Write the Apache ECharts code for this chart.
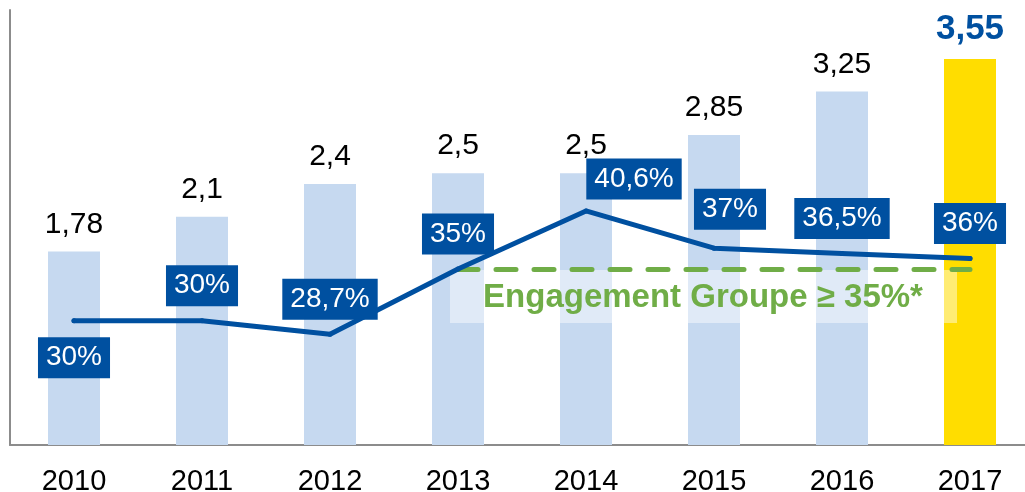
<!DOCTYPE html>
<html>
<head>
<meta charset="utf-8">
<script src="https://cdn.jsdelivr.net/npm/echarts@6/dist/echarts.min.js"></script>
<style>
  html, body { margin: 0; padding: 0; background: #fff; }
  #ech { width: 1025px; height: 492px; }
</style>
</head>
<body>
<div id="ech"></div>
<script>
// années
var years = ['2010', '2011', '2012', '2013', '2014', '2015', '2016', '2017'];
// dividende par action (€)
var dividend = [1.78, 2.1, 2.4, 2.5, 2.5, 2.85, 3.25, 3.55];
// taux de distribution (%)
var payout = [30, 30, 28.7, 35, 40.6, 37, 36.5, 36];
// engagement groupe
var target = 35;

var blue = '#0050a0';
var fontF = 'Liberation Sans, Arial, sans-serif';

// position des étiquettes de la courbe: [position, distance, décalage x]
var labelPos = [
    ['bottom', 14, 0],
    ['top', 12, 0],
    ['top', 12, 0],
    ['top', 12, 0],
    ['top', 9, 48],
    ['top', 16, 16],
    ['top', 12, 0],
    ['top', 12, 0]
];

function fr(v) { return String(v).replace('.', ','); }

let ownChart = echarts.init(document.getElementById('ech'));

var barData = dividend.map(function (v, i) {
    if (i === dividend.length - 1) {
        return {
            value: v,
            itemStyle: { color: '#ffdd00' },
            label: { color: blue, fontWeight: 'bold', fontSize: 35, distance: 12 }
        };
    }
    return v;
});

var lineData = payout.map(function (v, i) {
    return {
        value: v,
        label: { position: labelPos[i][0], distance: labelPos[i][1], offset: [labelPos[i][2], 0] }
    };
});

var option = {
    animation: false,
    textStyle: { fontFamily: fontF },
    grid: { left: 10, top: 10, width: 1024, height: 435, outerBoundsMode: 'none', containLabel: false },
    xAxis: {
        type: 'category',
        data: years,
        boundaryGap: true,
        axisLine: { show: true, lineStyle: { color: '#8c8c8c', width: 2 } },
        axisTick: { show: false },
        axisLabel: { color: '#000', fontSize: 29, margin: 22, fontFamily: fontF }
    },
    yAxis: [{
        type: 'value', min: 0, max: 4,
        splitLine: { show: false },
        axisLabel: { show: false },
        axisTick: { show: false },
        axisLine: { show: true, lineStyle: { color: '#8c8c8c', width: 2 } }
    }, {
        type: 'value', min: 18, max: 60,
        show: false,
        splitLine: { show: false }
    }],
    graphic: [{
        type: 'rect', z: 3,
        shape: { x: 450, y: 270, width: 507, height: 53 },
        style: { fill: 'rgba(255,255,255,0.45)' }
    }, {
        type: 'text', z: 6,
        x: 703, y: 298,
        style: {
            text: 'Engagement Groupe ≥ 35%*',
            fill: '#70ad47',
            font: 'bold 33px ' + fontF,
            textAlign: 'center',
            textVerticalAlign: 'middle'
        }
    }],
    series: [{
        type: 'bar',
        z: 2,
        data: barData,
        barWidth: 52,
        itemStyle: { color: '#c6d9f0' },
        label: {
            show: true, position: 'top', distance: 12,
            color: '#000', fontSize: 30, fontFamily: fontF,
            formatter: function (p) { return fr(p.value); }
        }
    }, {
        type: 'line',
        z: 5,
        yAxisIndex: 1,
        data: lineData,
        symbol: 'circle',
        symbolSize: 5,
        itemStyle: { color: blue },
        lineStyle: { color: blue, width: 5, cap: 'round', join: 'round' },
        label: {
            show: true,
            color: '#fff', fontSize: 28, lineHeight: 27, fontFamily: fontF,
            backgroundColor: blue,
            padding: [7, 8, 7, 8],
            formatter: function (p) { return fr(p.value) + '%'; }
        },
        markLine: {
            silent: true,
            symbol: 'none',
            label: { show: false },
            lineStyle: { color: '#70ad47', width: 5, type: [20, 18], cap: 'round' },
            data: [[{ coord: ['2013', target] }, { coord: ['2017', target] }]]
        }
    }]
};

ownChart.setOption(option);
</script>
</body>
</html>
